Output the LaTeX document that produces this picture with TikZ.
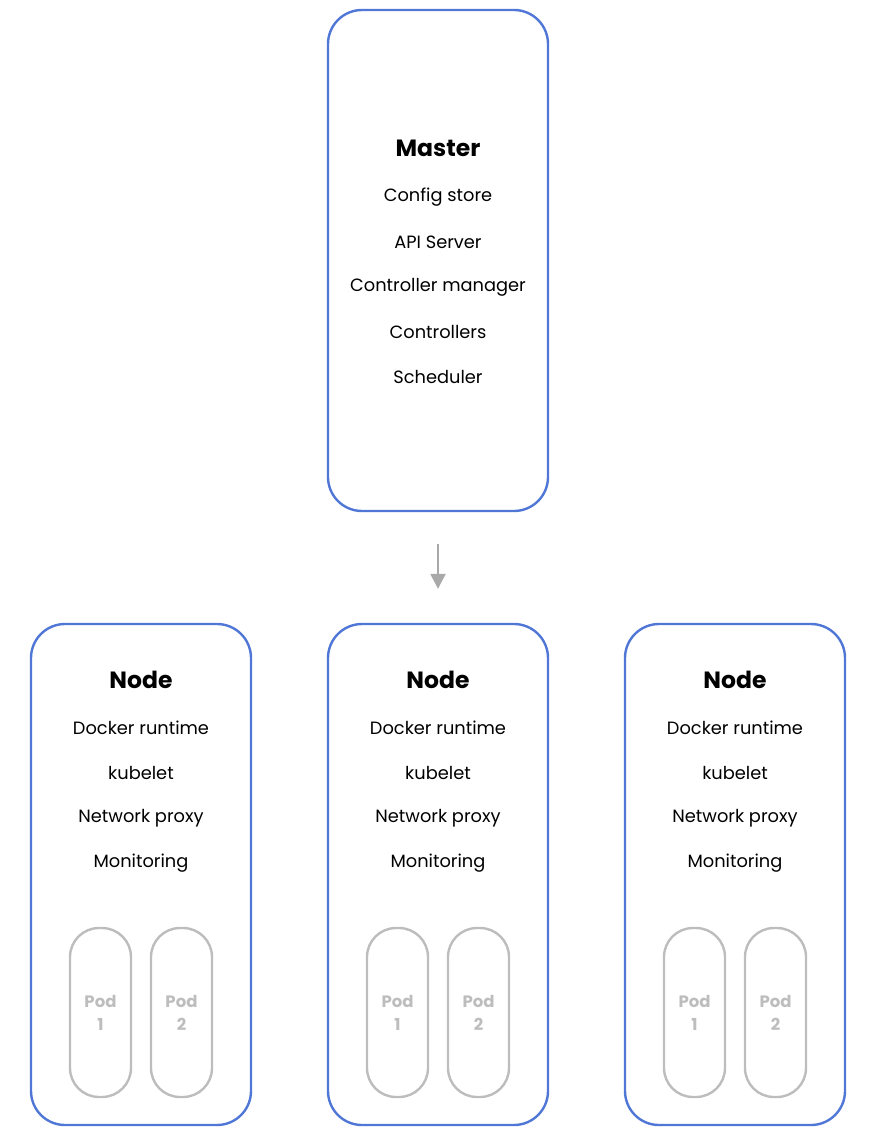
\documentclass[tikz,border=0pt]{standalone}
\usepackage{fontspec}
\setmainfont{Poppins}
\usetikzlibrary{positioning,arrows.meta}

\definecolor{boxblue}{HTML}{5077D6}
\definecolor{podgrey}{HTML}{BDBDBD}
\definecolor{arrowgrey}{HTML}{A9A9A9}

\tikzset{
  box/.style={draw=boxblue, line width=2.4pt, rounded corners=34pt,
    minimum width=220pt, minimum height=501pt},
  pod/.style={draw=podgrey, line width=2.4pt, rounded corners=29pt,
    minimum width=61pt, minimum height=169pt, text=podgrey, align=center,
    font=\fontsize{16.5}{23}\selectfont\bfseries},
  title/.style={font=\fontsize{23.5}{28}\selectfont\bfseries},
  item/.style={font=\fontsize{17.8}{22}\selectfont},
}

\begin{document}
\begin{tikzpicture}[x=1pt, y=-1pt]
    \useasboundingbox (0,0) rectangle (880,1142);

    % master
    \node[box] (master) at (438,260.5) {};
    \node[title] (mtitle) at (438,148) {Master};
    \foreach \t [count=\k] in {Config store, API Server, Controller manager, Controllers, Scheduler}
        \node[item] (mitem\k) at (438,152+45*\k) {\t};

    % worker nodes
    \foreach \i/\x in {1/141, 2/438, 3/735} {
        \node[box] (node\i) at (\x,874.5) {};
        \node[title] (ntitle\i) at (\x,680) {Node};
        \foreach \t [count=\k] in {Docker runtime, kubelet, Network proxy, Monitoring}
            \node[item] (nitem\i\k) at (\x,683+45*\k) {\t};
        \node[pod] (pod\i a) at (\x-40.5,1012.5) {Pod\\1};
        \node[pod] (pod\i b) at (\x+40.5,1012.5) {Pod\\2};
    }

    \coordinate (arrowtop) at ([yshift=-32pt]master.south);
    \coordinate (arrowbot) at ([yshift=34pt]node2.north);
    \draw[arrowgrey, line width=2.5pt, -{Triangle[length=15pt,width=15pt]}]
        (arrowtop) -- (arrowbot);
\end{tikzpicture}
\end{document}
